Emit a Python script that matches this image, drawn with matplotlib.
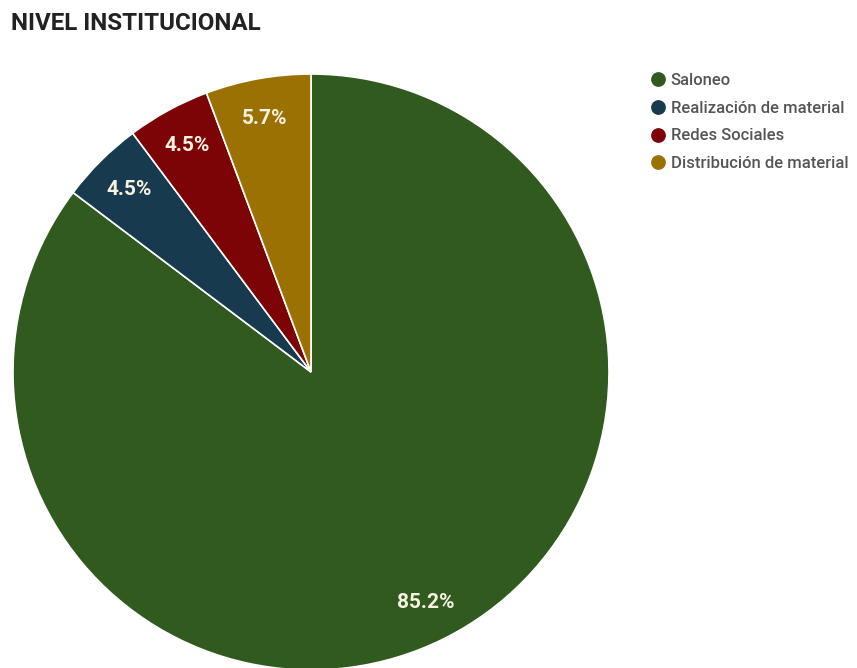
import numpy as np
import matplotlib.pyplot as plt
from matplotlib.lines import Line2D

categories = ["Saloneo", "Realización de material", "Redes Sociales", "Distribución de material"]
values = [85.2, 4.5, 4.5, 5.7]
colors = ["#305a1e", "#173a4e", "#7c0306", "#9b7103"]
title = "NIVEL INSTITUCIONAL"

plt.rcParams['font.family'] = ['Roboto', 'DejaVu Sans']

W, H = 857, 668
fig = plt.figure(figsize=(W / 100, H / 100), dpi=100)
cx, cy, r = 311, 372, 298
ax = fig.add_axes([(cx - r) / W, (H - cy - r) / H, 2 * r / W, 2 * r / H])
wedges, texts = ax.pie(
    values, colors=colors, startangle=90, counterclock=False,
    wedgeprops=dict(edgecolor="white", linewidth=1.2))
total = sum(values)
angle = 90.0
for w, v in zip(wedges, values):
    w.set_clip_on(False)
    span = 360.0 * v / total
    mid = np.deg2rad(angle - span / 2)
    angle -= span
    ax.text(0.865 * np.cos(mid), 0.865 * np.sin(mid), f"{v:.1f}%", ha="center", va="center",
            color="#f6f1e0", fontsize=15, fontweight="bold")
ax.set_xlim(-1, 1)
ax.set_ylim(-1, 1)
ax.set_aspect("equal")
ax.axis("off")

fig.text(11 / W, 1 - 24 / H, title, fontsize=17.4, fontweight="bold", color="#222222", va="center", ha="left")

handles = [Line2D([], [], marker="o", linestyle="", markersize=9.6, markerfacecolor=c, markeredgecolor=c) for c in colors]
fig.legend(handles, categories, loc="upper left", bbox_to_anchor=(651 / W, 1 - 73 / H),
           frameon=False, prop=dict(size=12, weight="medium"), labelcolor="#555555", handletextpad=0.38,
           labelspacing=0.76, handlelength=0.8, borderaxespad=0, borderpad=0)

fig.savefig("out.png", dpi=100, facecolor="white")
